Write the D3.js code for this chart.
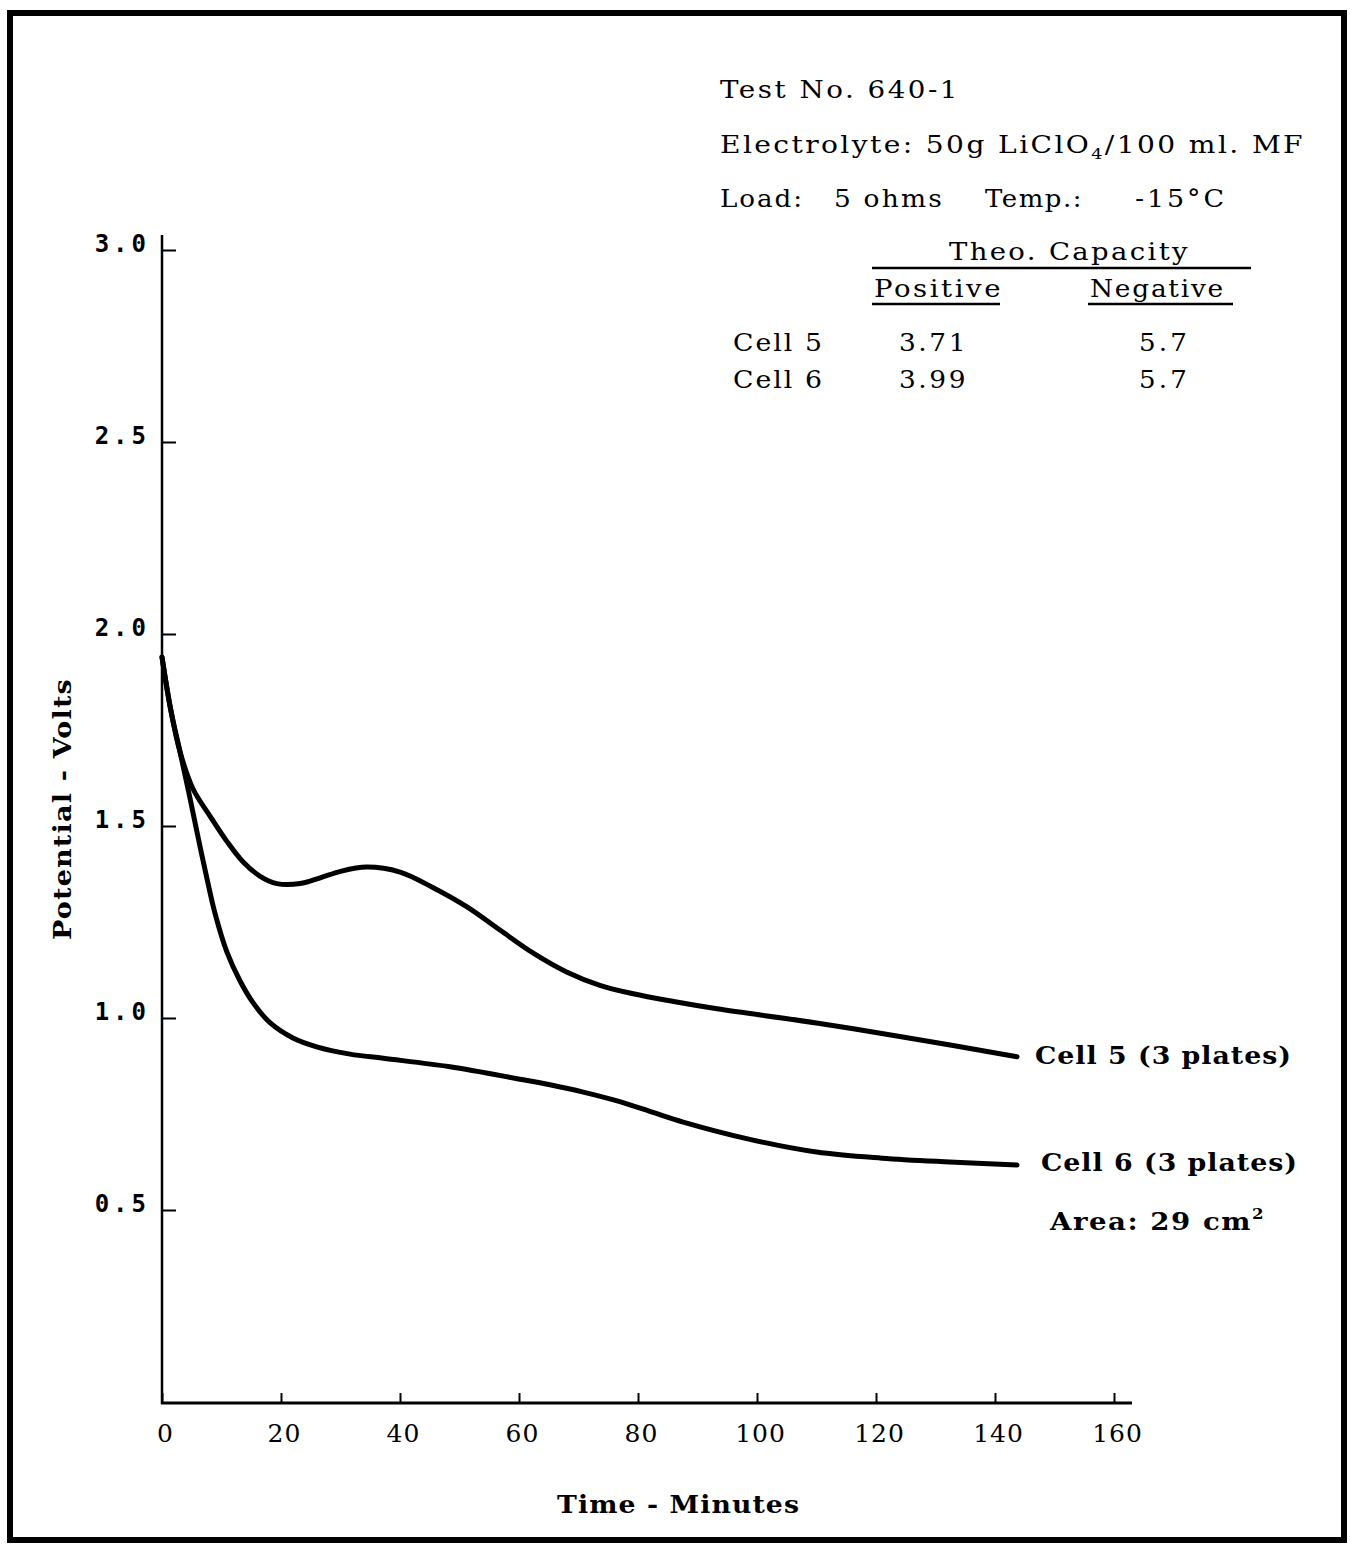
<!DOCTYPE html>
<html>
<head>
<meta charset="utf-8">
<script src="https://cdn.jsdelivr.net/npm/d3@7"></script>
<style>
  html, body { margin: 0; padding: 0; background: #fff; }
  svg { display: block; }
</style>
</head>
<body>
<svg id="chart" width="1350" height="1544"></svg>
<script>
// ---- Data ----
const xTicks = [0, 20, 40, 60, 80, 100, 120, 140, 160];
const yTicks = [0.5, 1.0, 1.5, 2.0, 2.5, 3.0];
const yTickLabels = ["0.5", "1.0", "1.5", "2.0", "2.5", "3.0"];

const cell5Time = [0, 1.5, 3, 5.2, 8.1, 10.9, 13.6, 16.5, 19.3, 23.2, 26.6, 30, 34.4, 40, 45.5, 51.2, 56.8, 62.4, 68, 73.6, 79.2, 86, 93.3, 110, 124, 143.7];
const cell5Volts = [1.94, 1.80, 1.695, 1.597, 1.525, 1.46, 1.407, 1.369, 1.35, 1.35, 1.365, 1.382, 1.393, 1.38, 1.34, 1.29, 1.229, 1.169, 1.12, 1.085, 1.063, 1.043, 1.024, 0.987, 0.952, 0.899];

const cell6Time = [0, 1.5, 3, 4.7, 6.1, 7.6, 8.9, 10.9, 13.1, 15.3, 18.2, 22, 26, 31.6, 37.2, 48.4, 59.7, 65.2, 70.8, 76.5, 82, 87.6, 98.8, 110, 121, 132.4, 143.7];
const cell6Volts = [1.94, 1.80, 1.695, 1.573, 1.468, 1.36, 1.273, 1.172, 1.097, 1.04, 0.987, 0.948, 0.925, 0.906, 0.895, 0.873, 0.842, 0.826, 0.807, 0.784, 0.757, 0.729, 0.684, 0.651, 0.635, 0.625, 0.617];

const seriesNames = ["Cell 5 (3 plates)", "Cell 6 (3 plates)"];
const tableCells = ["Cell 5", "Cell 6"];
const tablePositive = ["3.71", "3.99"];
const tableNegative = ["5.7", "5.7"];

// ---- Drawing ----
const svg = d3.select("#chart");
const SERIF = "'DejaVu Serif', 'Liberation Serif', serif";
const MONO = "'DejaVu Sans Mono', 'Liberation Mono', monospace";

const x = d3.scaleLinear().domain([0, 160]).range([162, 1114]);
const y = d3.scaleLinear().domain([0, 3]).range([1402, 250]);

// frame
svg.append("rect").attr("x", 10).attr("y", 13).attr("width", 1334).attr("height", 1527)
  .attr("fill", "none").attr("stroke", "#000").attr("stroke-width", 6);

// fit text to a target width: part letter-spacing, part glyph stretch
function fit(sel, width) {
  const node = sel.node();
  const w = node.getComputedTextLength();
  const n = node.textContent.length;
  if (n > 1 && width > w) {
    const ls = (width - w) * 0.45 / (n - 1);
    sel.attr("letter-spacing", ls.toFixed(2));
  }
  sel.attr("textLength", width).attr("lengthAdjust", "spacingAndGlyphs");
  return sel;
}
function txt(str, px, py, size, weight, family, width) {
  const t = svg.append("text").attr("x", px).attr("y", py)
    .attr("font-family", family || SERIF).attr("font-size", size)
    .attr("font-weight", weight || "normal").attr("fill", "#000")
    .text(str);
  if (width) fit(t, width);
  return t;
}

// Y axis
const yAxis = d3.axisLeft(y).tickValues(yTicks).tickSize(-14).tickPadding(12)
  .tickFormat((d, i) => yTickLabels[i]);
const gy = svg.append("g").attr("transform", "translate(162,0)").call(yAxis);
gy.select(".domain").remove();
gy.selectAll(".tick line").attr("stroke", "#000").attr("stroke-width", 2);
gy.selectAll(".tick text").attr("font-family", MONO).attr("font-size", 24)
  .attr("font-weight", "bold").attr("dy", "0.05em").attr("fill", "#000")
  .attr("letter-spacing", 4);
svg.append("line").attr("x1", 162).attr("x2", 162).attr("y1", 235).attr("y2", 1404)
  .attr("stroke", "#000").attr("stroke-width", 2.5);

// X axis
const xAxis = d3.axisBottom(x).tickValues(xTicks).tickSize(-10).tickPadding(24)
  .tickFormat(d3.format("d"));
const gx = svg.append("g").attr("transform", "translate(0,1403)").call(xAxis);
gx.select(".domain").remove();
gx.selectAll(".tick line").attr("stroke", "#000").attr("stroke-width", 2);
gx.selectAll(".tick text").attr("font-family", SERIF).attr("font-size", 25)
  .attr("dy", "0.58em").attr("dx", 3).attr("fill", "#000").attr("letter-spacing", 1);
svg.append("line").attr("x1", 161).attr("x2", 1132).attr("y1", 1403).attr("y2", 1403)
  .attr("stroke", "#000").attr("stroke-width", 3);

// curves
const line = d3.line().x(d => x(d[0])).y(d => y(d[1])).curve(d3.curveCatmullRom.alpha(0.5));
const s5 = cell5Time.map((t, i) => [t, cell5Volts[i]]);
const s6 = cell6Time.map((t, i) => [t, cell6Volts[i]]);
[s5, s6].forEach(s => {
  svg.append("path").datum(s).attr("d", line).attr("fill", "none")
    .attr("stroke", "#000").attr("stroke-width", 5).attr("stroke-linecap", "round")
    .attr("stroke-linejoin", "round");
});

// series labels
txt(seriesNames[0], 1035, 1064, 25, "bold", SERIF, 257);
txt(seriesNames[1], 1041, 1171, 25, "bold", SERIF, 257);
const area = svg.append("text").attr("x", 1050).attr("y", 1230)
  .attr("font-family", SERIF).attr("font-size", 25).attr("font-weight", "bold");
area.append("tspan").text("Area:  29 cm");
area.append("tspan").text("2").attr("font-size", 15).attr("dy", -11);
fit(area, 215);

// axis titles
txt("Time - Minutes", 557, 1513, 25, "bold", SERIF, 243);
const yl = svg.append("text").attr("transform", "translate(71,940) rotate(-90)")
  .attr("font-family", SERIF).attr("font-size", 25).attr("font-weight", "bold")
  .text("Potential - Volts");
fit(yl, 262);

// header block
txt("Test No. 640-1", 720, 98, 24, "normal", SERIF, 240);
const el = svg.append("text").attr("x", 720).attr("y", 153)
  .attr("font-family", SERIF).attr("font-size", 24);
el.append("tspan").text("Electrolyte: 50g LiClO");
el.append("tspan").text("4").attr("font-size", 15).attr("dy", 6);
el.append("tspan").text("/100 ml.  MF").attr("dy", -6);
fit(el, 585);
txt("Load:", 720, 207, 24, "normal", SERIF, 84);
txt("5 ohms", 834, 207, 24, "normal", SERIF, 110);
txt("Temp.:", 985, 207, 24, "normal", SERIF, 98);
txt("-15°C", 1135, 207, 24, "normal", SERIF, 92);

txt("Theo. Capacity", 949, 260, 24, "normal", SERIF, 241);
svg.append("line").attr("x1", 872).attr("x2", 1251).attr("y1", 268).attr("y2", 268)
  .attr("stroke", "#000").attr("stroke-width", 2.5);
txt("Positive", 874, 297, 24, "normal", SERIF, 129);
txt("Negative", 1090, 297, 24, "normal", SERIF, 135);
svg.append("line").attr("x1", 872).attr("x2", 1000).attr("y1", 304).attr("y2", 304)
  .attr("stroke", "#000").attr("stroke-width", 2.5);
svg.append("line").attr("x1", 1088).attr("x2", 1233).attr("y1", 304).attr("y2", 304)
  .attr("stroke", "#000").attr("stroke-width", 2.5);

tableCells.forEach((c, i) => {
  const by = 351 + i * 37;
  txt(c, 733, by, 24, "normal", SERIF, 91);
  txt(tablePositive[i], 899, by, 24, "normal", SERIF, 69);
  txt(tableNegative[i], 1139, by, 24, "normal", SERIF, 51);
});
</script>
</body>
</html>
